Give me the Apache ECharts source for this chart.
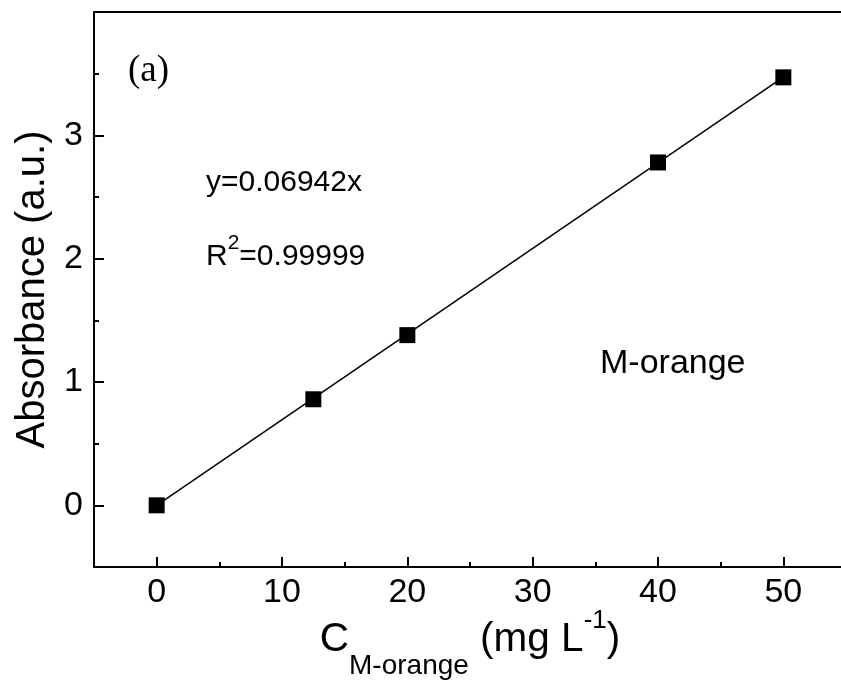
<!DOCTYPE html>
<html>
<head>
<meta charset="utf-8">
<script src="https://cdn.jsdelivr.net/npm/echarts@6/dist/echarts.min.js"></script>
<style>
  html, body { margin: 0; padding: 0; background: #fff; }
  #chart { width: 841px; height: 689px; }
</style>
</head>
<body>
<div id="chart"></div>
<script>
// measured points (M-orange calibration)
var concX = [0, 12.5, 20, 40, 50];
var absY = [0, 0.86, 1.38, 2.78, 3.47];
// linear fit y = 0.06942x, drawn between its end points
var fitX = [0, 50];
var fitY = [0, 3.471];

var xTicks = [0, 10, 20, 30, 40, 50];
var xMinorTicks = [5, 15, 25, 35, 45];
var yTicks = [0, 1, 2, 3];
var yMinorTicks = [-0.5, 0.5, 1.5, 2.5, 3.5];

var font = "'Liberation Sans', Arial, sans-serif";

var chart = echarts.init(document.getElementById('chart'));

var points = concX.map(function (x, i) { return [x, absY[i]]; });
var fitLine = fitX.map(function (x, i) { return [x, fitY[i]]; });

var option = {
  animation: false,
  grid: {
    left: 94,
    top: 12,
    right: -5,
    bottom: 122,
    outerBoundsMode: 'none'
  },
  xAxis: [
    {
      type: 'value',
      position: 'bottom',
      min: -5,
      max: 55,
      axisLine: { onZero: false, lineStyle: { color: '#000', width: 2 } },
      axisTick: { inside: true, length: 10, customValues: xTicks, lineStyle: { color: '#000', width: 2 } },
      axisLabel: { customValues: xTicks, color: '#000', fontSize: 34, fontFamily: font, margin: 9 },
      splitLine: { show: false },
      name: '{c|C}{sub|M-orange}{c| (mg L}{sup|-1}{c|)}',
      nameLocation: 'middle',
      nameGap: 52,
      nameMoveOverlap: false,
      nameTextStyle: {
        color: '#000',
        fontFamily: font,
        rich: {
          c: { fontSize: 40.5, lineHeight: 41, fontFamily: font, color: '#000' },
          sub: { fontSize: 28, lineHeight: 28, fontFamily: font, color: '#000', padding: [53, 0, 0, 0] },
          sup: { fontSize: 26, lineHeight: 26, fontFamily: font, color: '#000', padding: [0, 0, 38, 0] }
        }
      }
    },
    {
      type: 'value',
      position: 'bottom',
      min: -5,
      max: 55,
      axisLine: { show: false, onZero: false },
      axisTick: { inside: true, length: 5, customValues: xMinorTicks, lineStyle: { color: '#000', width: 2 } },
      axisLabel: { show: false },
      splitLine: { show: false }
    },
    {
      type: 'value',
      position: 'top',
      min: -5,
      max: 55,
      axisLine: { onZero: false, lineStyle: { color: '#000', width: 2 } },
      axisTick: { show: false },
      axisLabel: { show: false },
      splitLine: { show: false }
    }
  ],
  yAxis: [
    {
      type: 'value',
      position: 'left',
      min: -0.5,
      max: 4,
      axisLine: { show: true, onZero: false, lineStyle: { color: '#000', width: 2 } },
      axisTick: { show: true, inside: true, length: 10, customValues: yTicks, lineStyle: { color: '#000', width: 2 } },
      axisLabel: { customValues: yTicks, color: '#000', fontSize: 34, fontFamily: font, margin: 11 },
      splitLine: { show: false },
      name: 'Absorbance (a.u.)',
      nameLocation: 'middle',
      nameGap: 40,
      nameTextStyle: { color: '#000', fontSize: 40, fontFamily: font }
    },
    {
      type: 'value',
      position: 'left',
      offset: 0,
      min: -0.5,
      max: 4,
      axisLine: { show: false, onZero: false },
      axisTick: { show: true, inside: true, length: 5, customValues: yMinorTicks, lineStyle: { color: '#000', width: 2 } },
      axisLabel: { show: false },
      splitLine: { show: false }
    }
  ],
  graphic: [
    {
      type: 'text',
      x: 128,
      y: 71,
      style: { text: '(a)', fontSize: 37, fontFamily: "'Liberation Serif', 'Times New Roman', serif", fill: '#000', verticalAlign: 'middle' }
    },
    {
      type: 'text',
      x: 206,
      y: 183,
      style: { text: 'y=0.06942x', fontSize: 30, fontFamily: font, fill: '#000', verticalAlign: 'middle' }
    },
    {
      type: 'text',
      x: 206,
      y: 257,
      style: {
        text: '{r|R}{s|2}{r|=0.99999}',
        verticalAlign: 'middle',
        fill: '#000',
        rich: {
          r: { fontSize: 30, lineHeight: 30, fontFamily: font, fill: '#000' },
          s: { fontSize: 21, lineHeight: 21, fontFamily: font, fill: '#000', padding: [0, 0, 28, 0] }
        }
      }
    },
    {
      type: 'text',
      x: 600,
      y: 364,
      style: { text: 'M-orange', fontSize: 34, fontFamily: font, fill: '#000', verticalAlign: 'middle' }
    }
  ],
  series: [
    {
      type: 'line',
      xAxisIndex: 0,
      yAxisIndex: 0,
      data: fitLine,
      symbol: 'none',
      lineStyle: { color: '#000', width: 1.5 },
      z: 2
    },
    {
      type: 'scatter',
      xAxisIndex: 0,
      yAxisIndex: 0,
      data: points,
      symbol: 'rect',
      symbolSize: 16,
      itemStyle: { color: '#000', opacity: 1 },
      z: 3
    }
  ]
};

chart.setOption(option);
</script>
</body>
</html>
